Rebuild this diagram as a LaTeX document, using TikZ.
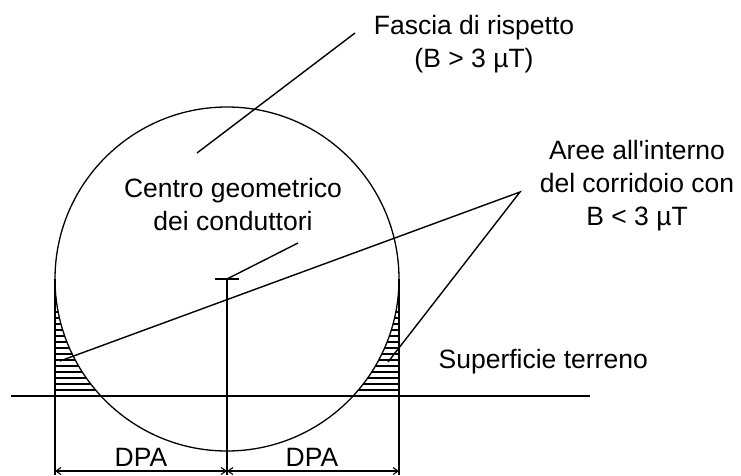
\documentclass[tikz,border=0pt]{standalone}
\usepackage{fontspec}
\setmainfont{Liberation Sans}
\usetikzlibrary{arrows.meta}

\begin{document}
\begin{tikzpicture}[x=1pt, y=1pt, line width=1.3pt,
    lbl/.style={font=\fontsize{26.5}{33}\selectfont, inner sep=0pt, align=center, anchor=base},
    leader/.style={line width=1.4pt},
    hatch/.style={line width=1.1pt},
    dim/.style={{Straight Barb[length=5pt,width=7pt]}-{Straight Barb[length=5pt,width=7pt]}, line width=1.1pt}]
    \useasboundingbox (0,0) rectangle (741,475);

    % Main points: centre of the band, tangents, ground crossings
    \coordinate (ctr) at (227,196);
    \coordinate (tl) at (55,196);
    \coordinate (tr) at (399,196);
    \coordinate (bl) at (55,0);
    \coordinate (br) at (399,0);
    \coordinate (bc) at (227,0);
    \coordinate (gl) at (100.9,79);
    \coordinate (gr) at (353.1,79);

    % Hatched areas between the circle and the DPA limits
    \begin{scope}
        \clip (tl) -- (55,79) -- (gl) arc (222.86:180:172pt) -- cycle;
        \foreach \hy in {85,91,...,163}
            \draw[hatch] (55,\hy) -- (227,\hy);
    \end{scope}
    \begin{scope}
        \clip (tr) -- (399,79) -- (gr) arc (-42.86:0:172pt) -- cycle;
        \foreach \hy in {85,91,...,163}
            \draw[hatch] (227,\hy) -- (399,\hy);
    \end{scope}

    % Circle, ground line and verticals
    \draw (ctr) circle (172pt);
    \draw[line width=1.9pt] (11,79) -- (590,79);
    \draw (tl) -- (bl);
    \draw (tr) -- (br);
    \draw (ctr) -- (bc);
    \draw (215,196) -- (239,196);

    % Dimension lines
    \coordinate (dl) at (55,4);
    \coordinate (dc) at (227,4);
    \coordinate (dr) at (399,4);
    \draw[dim] (dl) -- (dc);
    \draw[dim] (dc) -- (dr);
    \node[lbl] (dpal) at (141,9) {DPA};
    \node[lbl] (dpar) at (312,9) {DPA};

    % Labels
    \node[lbl] (fascia) at (474,407) {Fascia di rispetto\\(B > 3 µT)};
    \node[lbl] (aree) at (637,250) {Aree all\textquotesingle interno\\del corridoio con\\B < 3 µT};
    \node[lbl] (centro) at (233,245) {Centro geometrico\\dei conduttori};
    \node[lbl, anchor=base west] (terreno) at (438,107) {Superficie terreno};

    % Leader lines
    \coordinate (fascia end) at (355,442);
    \coordinate (fascia tip) at (197,322);
    \coordinate (centro end) at (298,232);
    \coordinate (aree apex) at (520,283);
    \coordinate (aree l) at (60,114);
    \coordinate (aree r) at (388,113);
    \draw[leader] (fascia end) -- (fascia tip);
    \draw[leader] (centro end) -- (ctr);
    \draw[leader] (aree l) -- (aree apex) -- (aree r);
\end{tikzpicture}
\end{document}
